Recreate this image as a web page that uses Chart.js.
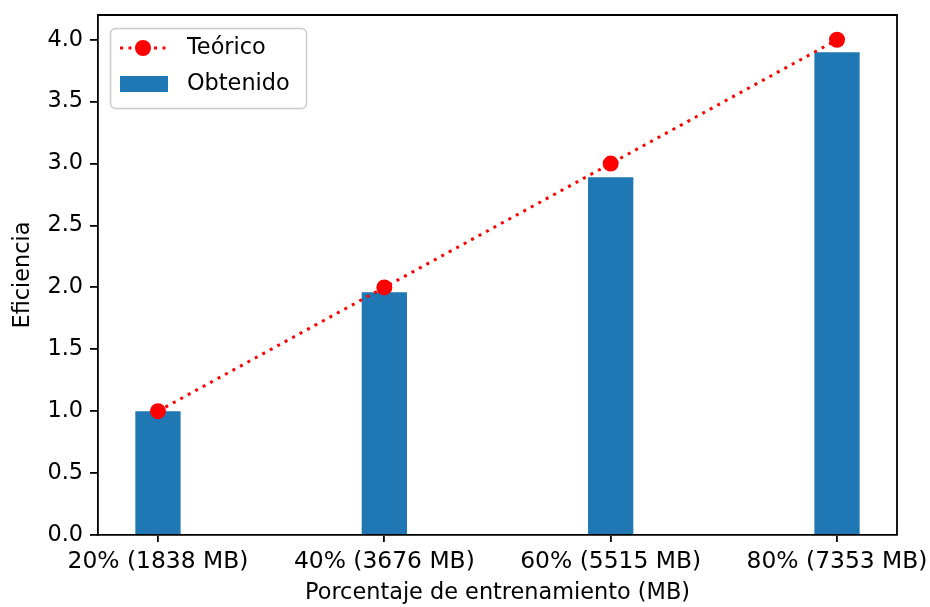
<!DOCTYPE html>
<html>
<head>
<meta charset="utf-8">
<script src="https://cdn.jsdelivr.net/npm/chart.js@4/dist/chart.umd.min.js"></script>
<style>
  html, body { margin: 0; padding: 0; background: #fff; }
  canvas { display: block; }
</style>
</head>
<body>
<canvas id="c" width="930" height="607"></canvas>
<script>
// Training share and the efficiency it reached
const categories = ['20% (1838 MB)', '40% (3676 MB)', '60% (5515 MB)', '80% (7353 MB)'];
const teorico = [1.0, 2.0, 3.0, 4.0];
const obtenido = [1.0, 1.96, 2.89, 3.90];
const yTicks = [0.0, 0.5, 1.0, 1.5, 2.0, 2.5, 3.0, 3.5, 4.0];

const FONT = 'DejaVu Sans';
const FONT_SIZE = 22.4;
const XTICK_SIZE = 23.4;
const RED = '#ff0000';
const BLUE = '#1f77b4';
const AXIS_W = 1.8;

const points = arr => arr.map((v, i) => ({ x: i, y: v }));

// Closes the plot frame on the top and right sides
const framePlugin = {
  id: 'frame',
  afterDraw(chart) {
    const { ctx, chartArea: a } = chart;
    ctx.save();
    ctx.strokeStyle = '#000';
    ctx.lineWidth = AXIS_W;
    ctx.beginPath();
    ctx.moveTo(a.left, a.top);
    ctx.lineTo(a.right, a.top);
    ctx.lineTo(a.right, a.bottom);
    ctx.stroke();
    ctx.restore();
  }
};

// Boxed legend in the upper-left corner
const legendPlugin = {
  id: 'boxLegend',
  afterDraw(chart) {
    const ctx = chart.ctx;
    const a = chart.chartArea;
    const x0 = a.left + 12, y0 = a.top + 13, w = 196, h = 80;
    ctx.save();
    ctx.beginPath();
    ctx.roundRect(x0 + 0.5, y0 + 0.5, w, h, 5);
    ctx.fillStyle = 'rgba(255,255,255,0.8)';
    ctx.fill();
    ctx.strokeStyle = '#cccccc';
    ctx.lineWidth = 1.5;
    ctx.stroke();

    const ds = chart.data.datasets;
    // Line sample
    const ly = y0 + 20;
    ctx.strokeStyle = RED;
    ctx.lineWidth = 3;
    ctx.setLineDash([3, 5.5]);
    ctx.beginPath();
    ctx.moveTo(x0 + 10, ly);
    ctx.lineTo(x0 + 56, ly);
    ctx.stroke();
    ctx.setLineDash([]);
    ctx.fillStyle = RED;
    ctx.beginPath();
    ctx.arc(x0 + 33, ly, 8, 0, Math.PI * 2);
    ctx.fill();
    // Bar sample
    const by = y0 + 56;
    ctx.fillStyle = BLUE;
    ctx.fillRect(x0 + 10, by - 8, 48, 16);

    ctx.fillStyle = '#000';
    ctx.font = FONT_SIZE + 'px "' + FONT + '"';
    ctx.textBaseline = 'middle';
    ctx.textAlign = 'left';
    ctx.fillText(ds[0].label, x0 + 77, ly);
    ctx.fillText(ds[1].label, x0 + 77, by);
    ctx.restore();
  }
};

new Chart(document.getElementById('c'), {
  type: 'bar',
  data: {
    datasets: [
      {
        type: 'line',
        label: 'Teórico',
        data: points(teorico),
        borderColor: RED,
        backgroundColor: RED,
        borderWidth: 3,
        borderDash: [3, 5.5],
        pointRadius: 8,
        pointHoverRadius: 8,
        pointBackgroundColor: RED,
        pointBorderWidth: 0,
        tension: 0,
        order: 0
      },
      {
        type: 'bar',
        label: 'Obtenido',
        data: points(obtenido),
        backgroundColor: BLUE,
        borderWidth: 0,
        barPercentage: 0.2,
        categoryPercentage: 1.0,
        order: 1
      }
    ]
  },
  options: {
    responsive: false,
    animation: false,
    devicePixelRatio: 1,
    layout: { padding: { left: 0, top: 15, right: 33, bottom: 0 } },
    plugins: { legend: { display: false }, tooltip: { enabled: false } },
    scales: {
      x: {
        type: 'linear',
        offset: false,
        min: -0.265,
        max: 3.265,
        afterBuildTicks(scale) { scale.ticks = categories.map((_, i) => ({ value: i })); },
        afterFit(scale) {
          scale.height = 72;
          scale.paddingLeft = 0;
          scale.paddingRight = 0;
        },
        ticks: {
          callback: v => categories[v],
          font: { family: FONT, size: XTICK_SIZE },
          color: '#000',
          padding: 6,
          maxRotation: 0,
          autoSkip: false
        },
        grid: { offset: false, drawOnChartArea: false, drawTicks: true, tickLength: 7, color: '#000', lineWidth: AXIS_W },
        border: { color: '#000', width: AXIS_W },
        title: {
          display: true,
          text: 'Porcentaje de entrenamiento (MB)',
          font: { family: FONT, size: FONT_SIZE },
          color: '#000',
          padding: { top: 0, bottom: 0 }
        }
      },
      y: {
        min: 0,
        max: 4.2,
        afterBuildTicks(scale) { scale.ticks = yTicks.map(v => ({ value: v })); },
        afterFit(scale) {
          scale.width = 98;
          scale.paddingTop = 0;
          scale.paddingBottom = 0;
        },
        ticks: {
          callback: v => v.toFixed(1),
          font: { family: FONT, size: FONT_SIZE },
          color: '#000',
          padding: 7
        },
        grid: { drawOnChartArea: false, drawTicks: true, tickLength: 8, color: '#000', lineWidth: AXIS_W },
        border: { color: '#000', width: AXIS_W },
        title: {
          display: true,
          text: 'Eficiencia',
          font: { family: FONT, size: FONT_SIZE },
          color: '#000',
          padding: { top: 10, bottom: 0 }
        }
      }
    }
  },
  plugins: [framePlugin, legendPlugin]
});
</script>
</body>
</html>
